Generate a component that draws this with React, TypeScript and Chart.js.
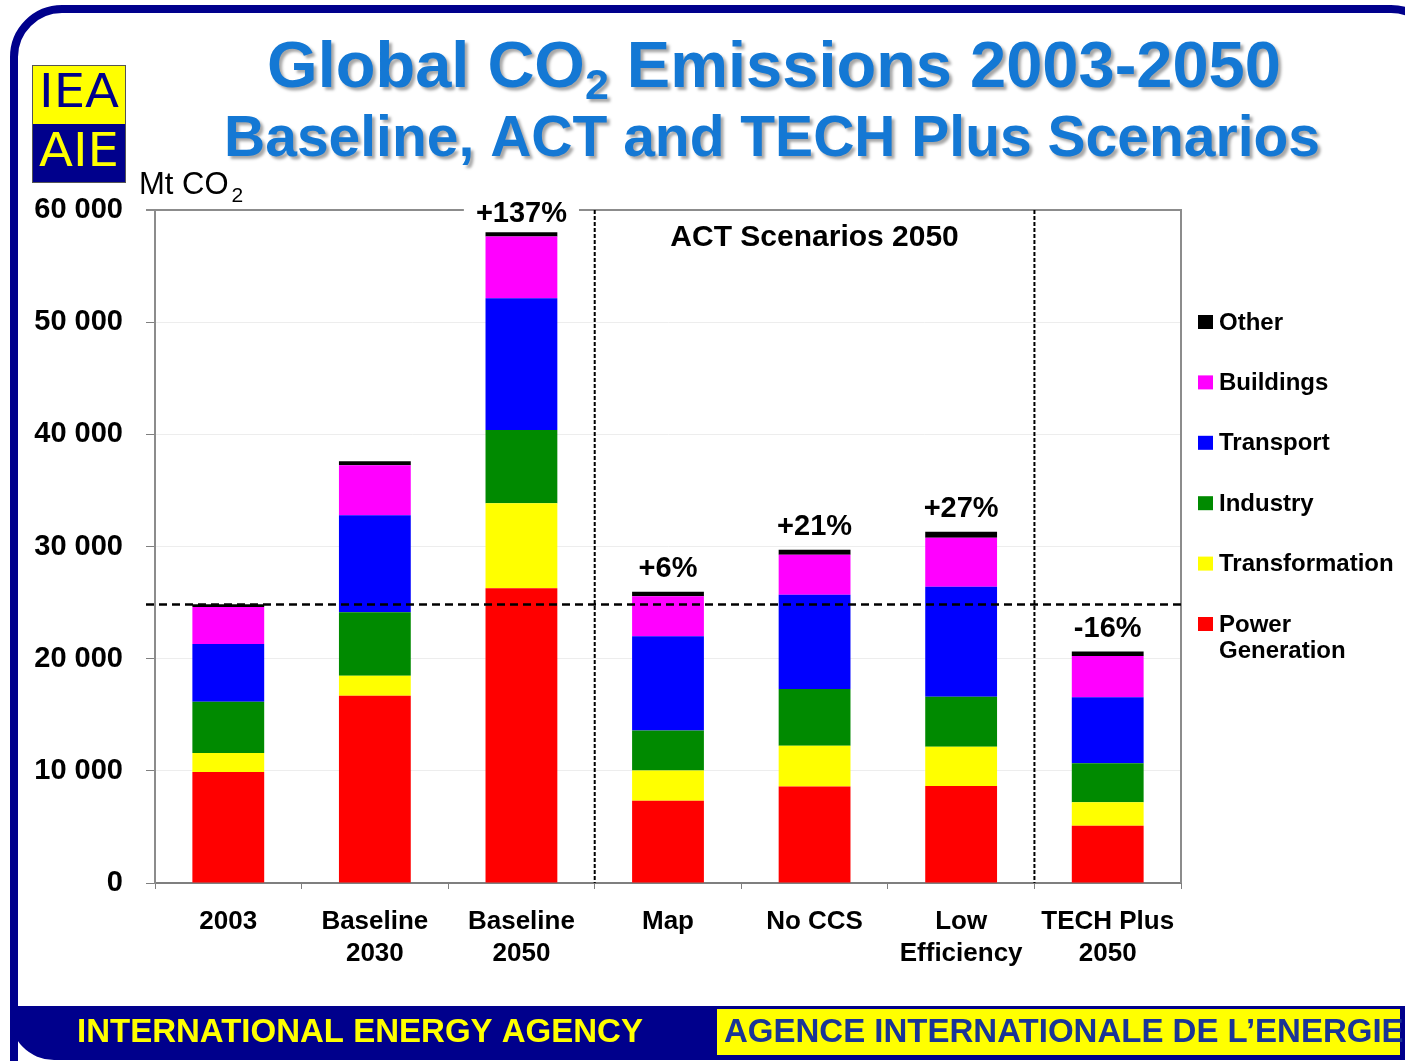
import React, { useEffect, useRef } from 'react';
import { Chart, registerables } from 'chart.js';

Chart.register(...registerables);

// Scenario columns (multi-line labels as arrays)
const categories: (string | string[])[] = [
  '2003',
  ['Baseline', '2030'],
  ['Baseline', '2050'],
  'Map',
  'No CCS',
  ['Low', 'Efficiency'],
  ['TECH Plus', '2050'],
];

// Emissions by sector, Mt CO2
const powerGeneration = [9900, 16700, 26270, 7340, 8610, 8650, 5110];
const transformation = [1700, 1780, 7580, 2680, 3630, 3500, 2090];
const industry = [4550, 5650, 6540, 3570, 5050, 4460, 3480];
const transport = [5150, 8650, 11740, 8410, 8410, 9810, 5880];
const buildings = [3300, 4460, 5500, 3570, 3570, 4370, 3680];
const other = [250, 360, 390, 390, 450, 530, 390];

// Change versus 2003, printed above the 2050 columns
const changeLabels = ['', '', '+137%', '+6%', '+21%', '+27%', '-16%'];

const sectorNames = ['Power Generation', 'Transformation', 'Industry', 'Transport', 'Buildings', 'Other'];
const sectorColors = ['#ff0000', '#ffff00', '#008a00', '#0000ff', '#ff00ff', '#000000'];

const yMin = 0;
const yMax = 60000;
const yStep = 10000;

const FONT = "'Liberation Sans', Arial, Helvetica, sans-serif";
const NAVY = '#00008c';
const TITLE_BLUE = '#1478d4';

const formatThousands = (v: number) => String(v).replace(/\B(?=(\d{3})+(?!\d))/g, ' ');

type Part = { text: string; font: string; dy: number };

function drawParts(ctx: CanvasRenderingContext2D, parts: Part[], cx: number, baseline: number) {
  let total = 0;
  const widths = parts.map((p) => {
    ctx.font = p.font;
    const w = ctx.measureText(p.text).width;
    total += w;
    return w;
  });
  let x = cx - total / 2;
  parts.forEach((p, i) => {
    ctx.font = p.font;
    ctx.fillText(p.text, x, baseline + p.dy);
    x += widths[i];
  });
}

// Slide frame, titles, logo and footer band
const slidePlugin = {
  id: 'slide',
  beforeDraw(chart: any) {
    const ctx: CanvasRenderingContext2D = chart.ctx;
    const W = chart.width;
    const H = chart.height;
    ctx.save();
    ctx.fillStyle = '#ffffff';
    ctx.fillRect(0, 0, W, H);

    // rounded navy frame
    ctx.strokeStyle = NAVY;
    ctx.lineWidth = 8;
    ctx.beginPath();
    (ctx as any).roundRect(14, 9, W + 20, H + 40, 48);
    ctx.stroke();

    // footer band
    ctx.fillStyle = NAVY;
    ctx.beginPath();
    (ctx as any).roundRect(10, 1006, W, 54, [0, 0, 0, 44]);
    ctx.fill();
    ctx.fillStyle = '#ffff00';
    ctx.fillRect(717, 1009, 683, 46);

    ctx.textBaseline = 'middle';
    ctx.textAlign = 'left';
    ctx.font = `bold 33px ${FONT}`;
    ctx.fillStyle = '#ffff00';
    ctx.fillText('INTERNATIONAL ENERGY AGENCY', 77, 1033);
    ctx.fillStyle = '#1a3596';
    ctx.fillText('AGENCE INTERNATIONALE DE L\u2019ENERGIE', 724, 1033);

    // titles
    ctx.textBaseline = 'alphabetic';
    ctx.fillStyle = TITLE_BLUE;
    ctx.shadowColor = 'rgba(0,0,0,0.35)';
    ctx.shadowOffsetX = 3;
    ctx.shadowOffsetY = 3;
    ctx.shadowBlur = 3;
    drawParts(
      ctx,
      [
        { text: 'Global CO', font: `bold 65px ${FONT}`, dy: 0 },
        { text: '2', font: `bold 43px ${FONT}`, dy: 12 },
        { text: ' Emissions 2003-2050', font: `bold 65px ${FONT}`, dy: 0 },
      ],
      774,
      87
    );
    drawParts(ctx, [{ text: 'Baseline, ACT and TECH Plus Scenarios', font: `bold 57px ${FONT}`, dy: 0 }], 772, 156);
    ctx.shadowColor = 'transparent';
    ctx.shadowOffsetX = 0;
    ctx.shadowOffsetY = 0;
    ctx.shadowBlur = 0;

    // logo
    const lx = 32, ly = 65, lw = 94, lh = 118;
    ctx.fillStyle = '#ffff00';
    ctx.fillRect(lx, ly, lw, lh / 2);
    ctx.fillStyle = NAVY;
    ctx.fillRect(lx, ly + lh / 2, lw, lh / 2);
    ctx.strokeStyle = '#555';
    ctx.lineWidth = 1;
    ctx.strokeRect(lx + 0.5, ly + 0.5, lw - 1, lh - 1);
    const logoText = (t: string, color: string, cy: number) => {
      ctx.save();
      ctx.font = `46px 'DejaVu Sans Condensed', 'DejaVu Sans', sans-serif`;
      const w = ctx.measureText(t).width;
      ctx.translate(lx + lw / 2, cy);
      ctx.scale(80 / w, 1.0);
      ctx.fillStyle = color;
      ctx.textAlign = 'center';
      ctx.textBaseline = 'middle';
      ctx.fillText(t, 0, 0);
      ctx.restore();
    };
    logoText('IEA', NAVY, ly + lh / 4 + 1);
    logoText('AIE', '#ffff00', ly + (3 * lh) / 4 + 1);

    // unit label
    ctx.fillStyle = '#000';
    ctx.textAlign = 'left';
    ctx.font = `31px ${FONT}`;
    ctx.fillText('Mt CO', 139, 194);
    const w = ctx.measureText('Mt CO').width;
    ctx.font = `21px ${FONT}`;
    ctx.fillText('2', 139 + w + 3, 202);
    ctx.restore();
  },
  beforeDatasetsDraw(chart: any) {
    const ctx: CanvasRenderingContext2D = chart.ctx;
    const a = chart.chartArea;
    ctx.save();
    ctx.strokeStyle = '#8c8c8c';
    ctx.lineWidth = 2;
    ctx.beginPath();
    ctx.moveTo(a.left - 9, a.top);
    ctx.lineTo(a.right, a.top);
    ctx.lineTo(a.right, a.bottom);
    ctx.stroke();
    ctx.restore();
  },
};

// Reference line, scenario separators, change labels and legend
const annotationPlugin = {
  id: 'annotations',
  afterDatasetsDraw(chart: any) {
    const ctx: CanvasRenderingContext2D = chart.ctx;
    const a = chart.chartArea;
    const xs = chart.scales.x;
    const ys = chart.scales.y;
    const ds = chart.data.datasets;
    ctx.save();

    // 2003 total level
    const base = ds.reduce((s: number, d: any) => s + d.data[0], 0);
    const yb = Math.round(ys.getPixelForValue(base)) + 0.5;
    ctx.strokeStyle = '#000';
    ctx.lineWidth = 2.5;
    ctx.setLineDash([8, 5]);
    ctx.beginPath();
    ctx.moveTo(a.left - 9, yb);
    ctx.lineTo(a.right, yb);
    ctx.stroke();

    // separators between scenario groups
    const sep = (i: number) => (xs.getPixelForValue(i) + xs.getPixelForValue(i + 1)) / 2;
    const s1 = sep(2);
    const s2 = sep(5);
    ctx.lineWidth = 2;
    ctx.setLineDash([4, 2]);
    [s1, s2].forEach((x) => {
      ctx.beginPath();
      ctx.moveTo(x, a.top);
      ctx.lineTo(x, a.bottom);
      ctx.stroke();
    });
    ctx.setLineDash([]);

    // group caption
    ctx.fillStyle = '#000';
    ctx.font = `bold 30px ${FONT}`;
    ctx.textAlign = 'center';
    ctx.textBaseline = 'middle';
    ctx.fillText('ACT Scenarios 2050', (s1 + s2) / 2, a.top + 28);

    // change labels above columns
    const topMeta = chart.getDatasetMeta(ds.length - 1);
    ctx.font = `bold 29px ${FONT}`;
    changeLabels.forEach((t, i) => {
      if (!t) return;
      const bar = topMeta.data[i];
      const y = Math.max(bar.y - 23, a.top + 4);
      const tw = ctx.measureText(t).width;
      ctx.fillStyle = '#ffffff';
      ctx.fillRect(bar.x - tw / 2 - 12, y - 14, tw + 24, 26);
      ctx.fillStyle = '#000';
      ctx.fillText(t, bar.x, y);
    });

    // legend, top sector first
    const lx = a.right + 17;
    let ly = 322;
    ctx.textAlign = 'left';
    ctx.font = `bold 24px ${FONT}`;
    for (let k = ds.length - 1; k >= 0; k--) {
      const d = ds[k];
      ctx.fillStyle = d.backgroundColor;
      ctx.fillRect(lx, ly - 7, 15, 14);
      const words = String(d.label).split(' ');
      const lines: string[] = [];
      let cur = '';
      words.forEach((wd) => {
        const test = cur ? cur + ' ' + wd : wd;
        if (cur && ctx.measureText(test).width > 182) {
          lines.push(cur);
          cur = wd;
        } else cur = test;
      });
      lines.push(cur);
      ctx.fillStyle = '#000';
      lines.forEach((ln, j) => ctx.fillText(ln, lx + 21, ly + 1 + j * 26));
      ly += 60.4;
    }
    ctx.restore();
  },
};

export default function App() {
  const canvasRef = useRef<HTMLCanvasElement | null>(null);

  useEffect(() => {
    if (!canvasRef.current) return;
    const series = [powerGeneration, transformation, industry, transport, buildings, other];
    const chart = new Chart(canvasRef.current, {
      type: 'bar',
      data: {
        labels: categories as any,
        datasets: series.map((data, i) => ({
          label: sectorNames[i],
          data,
          backgroundColor: sectorColors[i],
          borderWidth: 0,
          barPercentage: 0.49,
          categoryPercentage: 1,
        })),
      },
      options: {
        responsive: false,
        animation: false,
        devicePixelRatio: 1,
        layout: { padding: { top: 210, right: 224, bottom: 0, left: 0 } },
        plugins: {
          legend: { display: false },
          tooltip: { enabled: false },
          title: { display: false },
        },
        scales: {
          x: {
            stacked: true,
            grid: {
              display: true,
              drawOnChartArea: false,
              drawTicks: true,
              tickLength: 6,
              tickColor: '#7f7f7f',
              color: '#7f7f7f',
            },
            border: { display: true, color: '#7f7f7f', width: 2 },
            ticks: {
              color: '#000',
              padding: 17,
              maxRotation: 0,
              autoSkip: false,
              font: { family: FONT, size: 26, weight: 'bold', lineHeight: 32 / 26 },
            },
            afterFit(scale: any) {
              scale.height = 178;
            },
          },
          y: {
            stacked: true,
            min: yMin,
            max: yMax,
            grid: {
              color: '#ededed',
              lineWidth: 1,
              drawTicks: true,
              tickLength: 9,
              tickColor: '#7f7f7f',
            },
            border: { display: true, color: '#8c8c8c', width: 2 },
            ticks: {
              stepSize: yStep,
              color: '#000',
              padding: 23,
              font: { family: FONT, size: 29, weight: 'bold' },
              callback: (v: any) => formatThousands(Number(v)),
            },
            afterFit(scale: any) {
              scale.width = 155;
            },
          },
        },
      },
      plugins: [slidePlugin, annotationPlugin],
    });
    return () => chart.destroy();
  }, []);

  return (
    <div style={{ position: 'absolute', left: 0, top: 0, width: 1405, height: 1061, overflow: 'hidden', background: '#fff' }}>
      <canvas ref={canvasRef} width={1405} height={1061} style={{ display: 'block' }} />
    </div>
  );
}
